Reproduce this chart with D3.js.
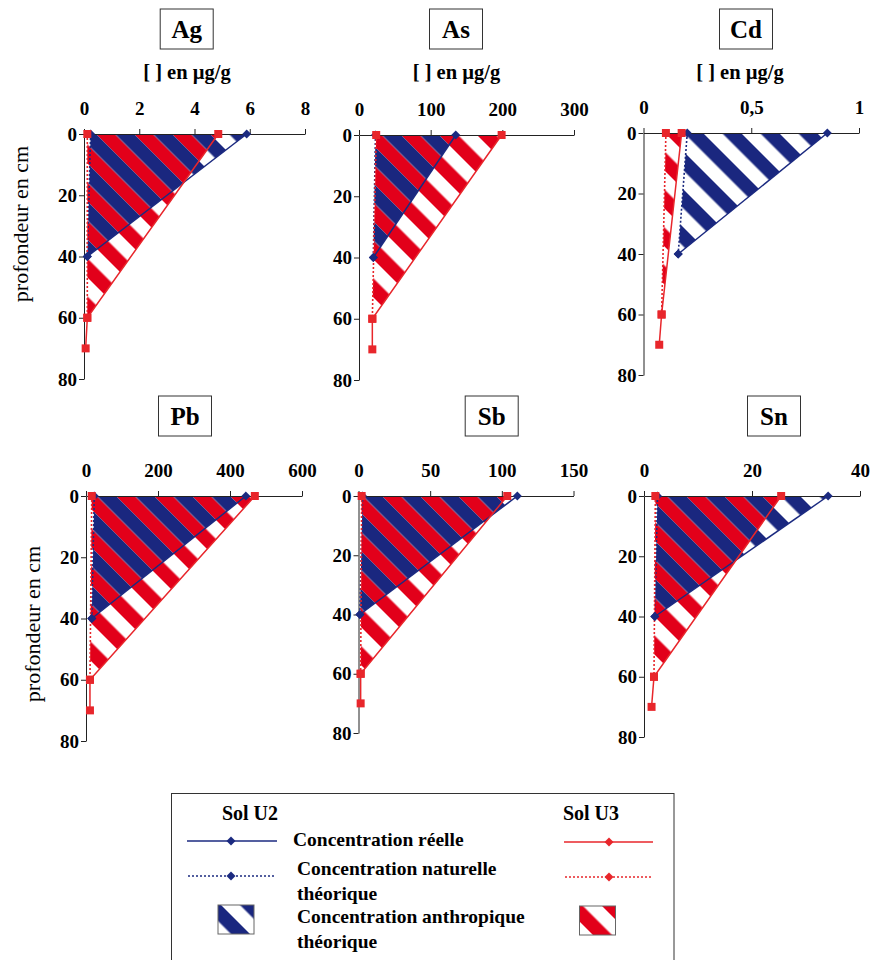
<!DOCTYPE html>
<html><head><meta charset="utf-8">
<script src="https://cdn.jsdelivr.net/npm/d3@7"></script>
<style>body{margin:0;background:#fff} svg{display:block} text{font-family:"Liberation Serif","Times New Roman",serif}</style>
</head><body><svg id="c" width="872" height="960"></svg>
<script>
// ---------- data ----------
const elements = ["Ag", "As", "Cd", "Pb", "Sb", "Sn"];
const depthsU2 = [0, 40];            // cm
const depthsU3Reelle = [0, 60, 70];  // cm
const depthsU3Naturelle = [0, 60];   // cm
const u2Reelle    = [[5.89, 0.12], [135, 20], [0.853, 0.161], [444, 16], [110.8, 1.0], [34.1, 2.0]];
const u2Naturelle = [[0.24, 0.12], [23, 20], [0.203, 0.161], [23, 16], [2.8, 1.0], [2.5, 2.0]];
const u3Reelle    = [[4.86, 0.12, 0.06], [199, 18.6, 18.6], [0.177, 0.084, 0.073], [469, 11, 11], [103.8, 1.5, 1.5], [25.4, 1.85, 1.4]];
const u3Naturelle = [[0.12, 0.12], [24, 18.6], [0.104, 0.084], [16, 11], [2.2, 1.5], [2.1, 1.85]];
const xMax = [8, 300, 1, 600, 150, 40];
const xTicks = [[0, 2, 4, 6, 8], [0, 100, 200, 300], [0, 0.5, 1], [0, 200, 400, 600], [0, 50, 100, 150], [0, 20, 40]];
const xTickLabels = [["0","2","4","6","8"], ["0","100","200","300"], ["0","0,5","1"], ["0","200","400","600"], ["0","50","100","150"], ["0","20","40"]];
const yTicks = [0, 20, 40, 60, 80];
const unitLabel = "[ ] en µg/g";
const depthLabel = "profondeur en cm";
const legendHeaders = ["Sol U2", "Sol U3"];
const legendItems = [["Concentration réelle"], ["Concentration naturelle", "théorique"], ["Concentration anthropique", "théorique"]];

// ---------- layout ----------
const layout = [
  {x0: 84,    x1: 305,   y0: 134, y1: 379, tx: 186.7, ty: 29,  sub: 187,   ylab: [28, 224]},
  {x0: 359,   x1: 574,   y0: 135, y1: 380, tx: 456,   ty: 29,  sub: 456.5},
  {x0: 643.5, x1: 859,   y0: 133, y1: 375, tx: 746,   ty: 29,  sub: 740},
  {x0: 86,    x1: 302,   y0: 496, y1: 741, tx: 185,   ty: 416, ylab: [40, 624]},
  {x0: 358.5, x1: 573.5, y0: 496, y1: 733, tx: 491.7, ty: 416},
  {x0: 644,   x1: 860,   y0: 496, y1: 737, tx: 774,   ty: 416}
];
const BLUE = "#1b2a80", RED = "#e8262b", BLUE_FILL = "#1a277f", RED_FILL = "#e2001a", AXIS = "#222";

const svg = d3.select("#c");
const defs = svg.append("defs");
const P = 26.87;
function stripe(id, color, off) {
  const p = defs.append("pattern").attr("id", id).attr("patternUnits", "userSpaceOnUse")
    .attr("width", P).attr("height", 20).attr("patternTransform", "rotate(-45)");
  p.append("rect").attr("x", off).attr("y", 0).attr("width", P / 2).attr("height", 20).attr("fill", color);
}
stripe("hRed", RED_FILL, 0);
stripe("hBlue", BLUE_FILL, P / 2);

const diamond = d3.symbol().type(d3.symbolSquare).size(40);
const square = d3.symbol().type(d3.symbolSquare).size(64);

elements.forEach((el, i) => {
  const L = layout[i];
  const x = d3.scaleLinear().domain([0, xMax[i]]).range([L.x0, L.x1]);
  const y = d3.scaleLinear().domain([0, 80]).range([L.y0, L.y1]);
  const g = svg.append("g");

  // title box
  g.append("rect").attr("x", L.tx - 26.5).attr("y", L.ty - 20).attr("width", 53).attr("height", 40)
    .attr("fill", "#fff").attr("stroke", "#333").attr("stroke-width", 1);
  g.append("text").attr("x", L.tx).attr("y", L.ty + 8.5).attr("text-anchor", "middle")
    .attr("font-weight", "bold").attr("font-size", 25).text(el);
  if (L.sub) g.append("text").attr("x", L.sub).attr("y", 79).attr("text-anchor", "middle")
    .attr("font-weight", "bold").attr("font-size", 20.5).text(unitLabel);
  if (L.ylab) g.append("text").attr("transform", `translate(${L.ylab[0]},${L.ylab[1]}) rotate(-90)`)
    .attr("text-anchor", "middle").attr("font-size", 22).text(depthLabel);

  // areas
  const u3Poly = [[u3Naturelle[i][0], 0], [u3Reelle[i][0], 0], [u3Reelle[i][1], 60], [u3Naturelle[i][1], 60]];
  const u2Poly = [[u2Naturelle[i][0], 0], [u2Reelle[i][0], 0], [u2Reelle[i][1], 40], [u2Naturelle[i][1], 40]];
  const poly = d3.line().x(d => x(d[0])).y(d => y(d[1]));
  g.append("path").attr("d", poly(u3Poly) + "Z").attr("fill", "url(#hRed)");
  g.append("path").attr("d", poly(u2Poly) + "Z").attr("fill", "url(#hBlue)");

  // axes
  const ax = g.append("g").attr("transform", `translate(0,${L.y0})`)
    .call(d3.axisTop(x).tickValues(xTicks[i]).tickFormat((d, k) => xTickLabels[i][k]).tickSize(5).tickPadding(14).tickSizeOuter(0));
  const ay = g.append("g").attr("transform", `translate(${L.x0},0)`)
    .call(d3.axisLeft(y).tickValues(yTicks).tickSize(5).tickPadding(2).tickSizeOuter(0));
  [ax, ay].forEach(a => {
    a.attr("font-family", null);
    a.selectAll("path,line").attr("stroke", AXIS).attr("stroke-width", 1);
    a.selectAll("text").attr("fill", "#000").attr("font-weight", "bold").attr("font-size", 19);
  });

  // lines
  const ln = (vals, depths) => d3.line().x(d => x(d[0])).y(d => y(d[1]))(vals.map((v, k) => [v, depths[k]]));
  g.append("path").attr("d", ln(u2Naturelle[i], depthsU2)).attr("fill", "none").attr("stroke", BLUE).attr("stroke-width", 1.6).attr("stroke-dasharray", "2,2");
  g.append("path").attr("d", ln(u2Reelle[i], depthsU2)).attr("fill", "none").attr("stroke", BLUE).attr("stroke-width", 1.5);
  g.append("path").attr("d", ln(u3Naturelle[i], depthsU3Naturelle)).attr("fill", "none").attr("stroke", RED).attr("stroke-width", 1.6).attr("stroke-dasharray", "2,2");
  g.append("path").attr("d", ln(u3Reelle[i], depthsU3Reelle)).attr("fill", "none").attr("stroke", RED).attr("stroke-width", 1.5);

  // markers
  const mk = (vals, depths, sym, col, rot) => vals.forEach((v, k) => {
    g.append("path").attr("d", sym()).attr("fill", col)
      .attr("transform", `translate(${x(v)},${y(depths[k])}) rotate(${rot})`);
  });
  mk(u2Naturelle[i], depthsU2, diamond, BLUE, 45);
  mk(u2Reelle[i], depthsU2, diamond, BLUE, 45);
  mk(u3Naturelle[i], depthsU3Naturelle, square, RED, 0);
  mk(u3Reelle[i], depthsU3Reelle, square, RED, 0);
});

// ---------- legend ----------
const lg = svg.append("g");
lg.append("rect").attr("x", 171.5).attr("y", 793.5).attr("width", 502.5).attr("height", 180)
  .attr("fill", "#fff").attr("stroke", "#333").attr("stroke-width", 1);
lg.append("text").attr("x", 250).attr("y", 820).attr("text-anchor", "middle").attr("font-weight", "bold").attr("font-size", 20).text(legendHeaders[0]);
lg.append("text").attr("x", 591).attr("y", 820).attr("text-anchor", "middle").attr("font-weight", "bold").attr("font-size", 20).text(legendHeaders[1]);
const legLines = [
  {x1: 187, x2: 277, y: 841, c: BLUE, dash: null, mx: 231},
  {x1: 188, x2: 276, y: 876, c: BLUE, dash: "2,2", mx: 231},
  {x1: 564, x2: 653, y: 842, c: RED, dash: null, mx: 609},
  {x1: 565, x2: 652, y: 877, c: RED, dash: "2,2", mx: 609}
];
legLines.forEach(d => {
  lg.append("line").attr("x1", d.x1).attr("x2", d.x2).attr("y1", d.y).attr("y2", d.y)
    .attr("stroke", d.c).attr("stroke-width", d.dash ? 1.6 : 1.5).attr("stroke-dasharray", d.dash);
  lg.append("path").attr("d", diamond()).attr("fill", d.c).attr("transform", `translate(${d.mx},${d.y}) rotate(45)`);
});
const textRows = [[846], [874.5, 899.5], [923, 948]];
const textX = [293, 297, 297];
legendItems.forEach((lines, k) => lines.forEach((t, j) => {
  lg.append("text").attr("x", textX[k]).attr("y", textRows[k][j]).attr("font-weight", "bold").attr("font-size", 19.5).text(t);
}));
lg.append("rect").attr("x", 218).attr("y", 905).attr("width", 36).attr("height", 29).attr("fill", "#fff");
lg.append("rect").attr("x", 218).attr("y", 905).attr("width", 36).attr("height", 29).attr("fill", "url(#hBlue)").attr("stroke", "#666");
lg.append("rect").attr("x", 579.5).attr("y", 906).attr("width", 36).attr("height", 29).attr("fill", "#fff");
lg.append("rect").attr("x", 579.5).attr("y", 906).attr("width", 36).attr("height", 29).attr("fill", "url(#hRed)").attr("stroke", "#666");
</script></body></html>
